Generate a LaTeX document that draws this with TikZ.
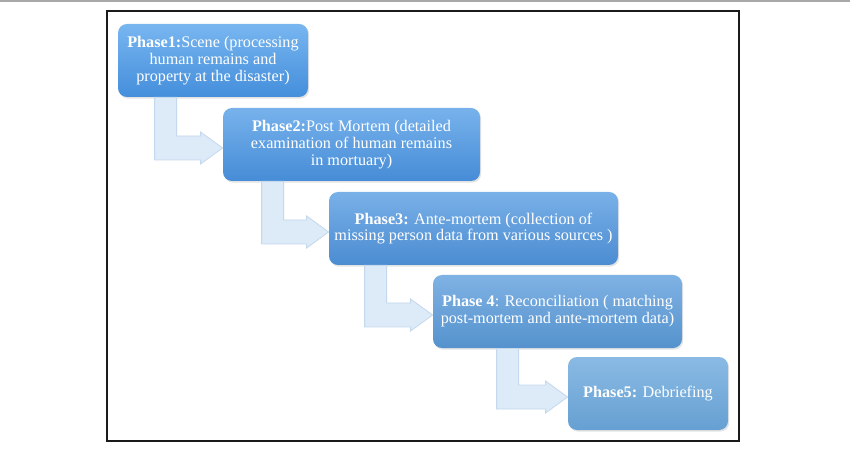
\documentclass[tikz,border=0pt]{standalone}
\usepackage{fontspec}
\setmainfont{Liberation Serif}
\usepackage{xcolor}
\usepackage{tikz}
\usetikzlibrary{calc,shadows}
\definecolor{frameline}{HTML}{1A1A1A}
\definecolor{topband}{HTML}{A8A8A8}
\definecolor{arrowfill}{HTML}{DDEAF7}
\definecolor{arrowline}{HTML}{C4D8EE}
\definecolor{ponetop}{HTML}{78B6F0}
\definecolor{ponebot}{HTML}{448EDB}
\definecolor{ptwotop}{HTML}{77B2EC}
\definecolor{ptwobot}{HTML}{468CD6}
\definecolor{pthreetop}{HTML}{79B0E8}
\definecolor{pthreebot}{HTML}{4B8CD1}
\definecolor{pfourtop}{HTML}{7FB2E4}
\definecolor{pfourbot}{HTML}{5592CD}
\definecolor{pfivetop}{HTML}{8ABAE4}
\definecolor{pfivebot}{HTML}{66A0D2}
\tikzset{
  phasebox/.style  = {draw=none, rounded corners=4.5pt, text=white,
                      font=\fontsize{8.1}{8.45}\selectfont, align=center,
                      inner sep=2pt, minimum height=36.5pt,
                      drop shadow={opacity=0.22, shadow xshift=0.6pt,
                                   shadow yshift=-0.8pt}},
  bentarrow/.style = {fill=arrowfill, draw=arrowline, line width=0.4pt,
                      line join=miter},
}
% bent block arrow from the foot of #1 to the left side of #2
\newcommand{\phasearrow}[3]{%
  \path[bentarrow] let \p1=(#1.south west), \p2=(#2.west) in
    (\x1+#3,\y1) -- (\x1+#3+11pt,\y1) -- (\x1+#3+11pt,\y2+4.25pt)
    -- (\x2-11pt,\y2+4.25pt) -- (\x2-11pt,\y2+6.25pt) -- (\x2,\y2-1.75pt)
    -- (\x2-11pt,\y2-9.75pt) -- (\x2-11pt,\y2-7.75pt)
    -- (\x1+#3,\y2-7.75pt) -- cycle;}
\begin{document}
\begin{tikzpicture}[x=0.5pt, y=-0.5pt]
    \useasboundingbox[fill=white] (0,0) rectangle (850,459);
    \fill[topband] (0,0) rectangle (850,2.5);
    \draw[frameline, line width=0.8pt] (107,11) rectangle (739,441);

    % ---------------- phases
    \node[phasebox, top color=ponetop, bottom color=ponebot,
          minimum width=95pt] (ph1) at (213,60.5)
      {\textbf{Phase1:}Scene (processing\\human remains and\\property at the disaster)};
    \node[phasebox, top color=ptwotop, bottom color=ptwobot,
          minimum width=128.5pt] (ph2) at (351.5,144.5)
      {\textbf{Phase2:}Post Mortem (detailed\\examination of human remains\\in mortuary)};
    \node[phasebox, top color=pthreetop, bottom color=pthreebot,
          minimum width=144.5pt] (ph3) at (473.5,228.5)
      {\textbf{Phase3:} Ante-mortem (collection of\\missing person data from various sources )};
    \node[phasebox, top color=pfourtop, bottom color=pfourbot,
          minimum width=124.5pt] (ph4) at (557.5,311.5)
      {\textbf{Phase 4}: Reconciliation ( matching\\post-mortem and ante-mortem data)};
    \node[phasebox, top color=pfivetop, bottom color=pfivebot,
          minimum width=80pt] (ph5) at (648,393.5)
      {\textbf{Phase5:} Debriefing};

    % ---------------- arrows
    \phasearrow{ph1}{ph2}{18.5pt}
    \phasearrow{ph2}{ph3}{19.5pt}
    \phasearrow{ph3}{ph4}{18pt}
    \phasearrow{ph4}{ph5}{32pt}
\end{tikzpicture}
\end{document}
